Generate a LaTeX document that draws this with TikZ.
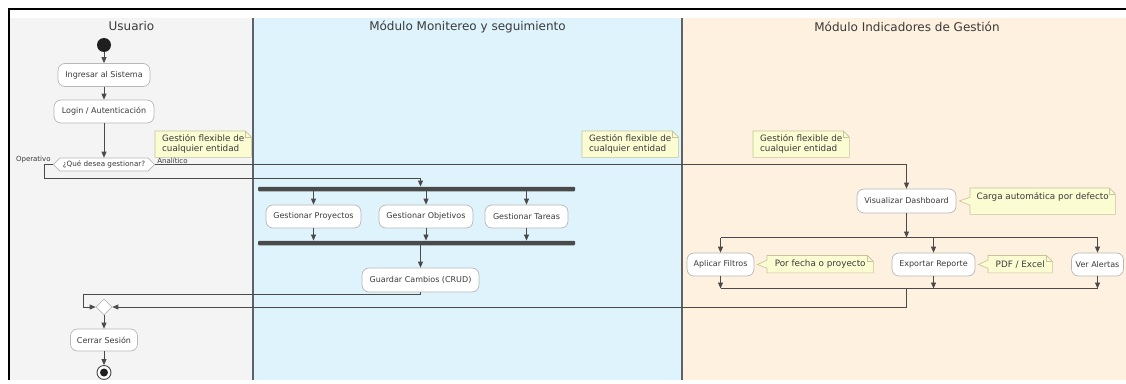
\documentclass[tikz,border=0pt]{standalone}
\usepackage{fontspec}
\setmainfont{DejaVu Sans}
\usetikzlibrary{shapes.geometric,shapes.symbols,arrows.meta,calc}
\pgfdeclarelayer{lanes}
\pgfdeclarelayer{notes}
\pgfsetlayers{lanes,notes,main}
\definecolor{laneA}{HTML}{F4F4F4}
\definecolor{laneB}{HTML}{DFF3FC}
\definecolor{laneC}{HTML}{FEF1DF}
\definecolor{ink}{HTML}{3A3A3A}
\definecolor{wirec}{HTML}{4A4A4A}
\definecolor{boxline}{HTML}{B8B8B8}
\definecolor{notefill}{HTML}{FCFCD2}
\definecolor{noteline}{HTML}{C4C49C}
\definecolor{sepc}{HTML}{5E6368}

% note body with folded corner
\newcommand\drawnotebody[1]{%
  \begin{pgfonlayer}{notes}
    \draw[notebody] (#1.south west) -- (#1.north west) -- ([xshift=-6pt]#1.north east)
      -- ([yshift=-6pt]#1.north east) -- (#1.south east) -- cycle;
    \draw[notebody,fill=none] ([xshift=-6pt]#1.north east) -- ([xshift=-6pt,yshift=-6pt]#1.north east)
      -- ([yshift=-6pt]#1.north east);
  \end{pgfonlayer}}
% note body with folded corner and a wedge pointing at node #2
\newcommand\drawnotewedge[2]{%
  \begin{pgfonlayer}{notes}
    \draw[notebody] (#1.north west) -- ([xshift=-6pt]#1.north east)
      -- ([yshift=-6pt]#1.north east) -- (#1.south east) -- (#1.south west)
      -- ([yshift=-4pt]#1.west) -- ([xshift=3pt]#2.east) -- ([yshift=4pt]#1.west) -- cycle;
    \draw[notebody,fill=none] ([xshift=-6pt]#1.north east) -- ([xshift=-6pt,yshift=-6pt]#1.north east)
      -- ([yshift=-6pt]#1.north east);
  \end{pgfonlayer}}

\begin{document}
\begin{tikzpicture}[x=1pt,y=-1pt,
  act/.style={draw=boxline, line width=0.7pt, fill=white, rounded corners=7pt,
    minimum height=23pt, inner xsep=5pt, inner ysep=0pt,
    font=\fontsize{8}{9}\selectfont, text=ink},
  arr/.style={draw=wirec, line width=0.8pt, -{Triangle[length=6pt,width=5pt]}},
  wire/.style={draw=wirec, line width=0.8pt},
  forkbar/.style={fill=wirec, draw=none, rounded corners=1pt, minimum height=4.5pt,
    minimum width=317pt, inner sep=0pt},
  notetext/.style={inner sep=0pt, font=\fontsize{8.8}{10}\selectfont, text=ink, align=left},
  notebody/.style={fill=notefill, draw=noteline, line width=0.6pt},
  lanetitle/.style={font=\fontsize{12}{14}\selectfont, text=ink},
  branchlbl/.style={font=\fontsize{7}{8}\selectfont, text=ink, inner sep=0.5pt},
]
\useasboundingbox (0,0) rectangle (1126,383);

% swimlanes and frame
\begin{pgfonlayer}{lanes}
  \fill[white] (0,0) rectangle (1126,383);
  \fill[laneA] (10,18) rectangle (253,380);
  \fill[laneB] (253,18) rectangle (682,380);
  \fill[laneC] (682,18) rectangle (1126,380);
  \draw[sepc, line width=1.3pt] (253,18) -- (253,380);
  \draw[sepc, line width=1.3pt] (682,18) -- (682,380);
  \draw[black, line width=2pt] (8,8.5) -- (1126,8.5);
  \draw[black, line width=2pt] (9,7.5) -- (9,380);
\end{pgfonlayer}

\node[lanetitle] (tU) at (131.5,26.5) {Usuario};
\node[lanetitle] (tM) at (467.5,26.5) {Módulo Monitereo y seguimiento};
\node[lanetitle] (tI) at (907,26.5) {Módulo Indicadores de Gestión};

% Usuario
\node[circle, fill=black!88, minimum size=14pt, inner sep=0pt] (st) at (104,45) {};
\node[act, minimum width=92pt] (ing) at (104,75) {Ingresar al Sistema};
\node[act, minimum width=100pt] (lg) at (104,111.5) {Login / Autenticación};
\node[signal, signal to=east and west, signal pointer angle=90, draw=boxline,
  line width=0.7pt, fill=white, minimum height=13pt, inner xsep=3pt, inner ysep=0pt,
  font=\fontsize{7.2}{8}\selectfont, text=ink] (dec) at (104,164.5) {¿Qué desea gestionar?};
\node[branchlbl, anchor=south east] (lop) at ([xshift=-1.5pt,yshift=0.5pt]dec.west) {Operativo};
\node[branchlbl, anchor=south west] (lan) at ([xshift=1.5pt,yshift=0.5pt]dec.east) {Analítico};
\node[diamond, draw=boxline, line width=0.7pt, fill=white, minimum width=16pt,
  minimum height=16pt, inner sep=0pt] (mg) at (104,307) {};
\node[act, minimum width=67pt, minimum height=22pt] (cs) at (104,340) {Cerrar Sesión};
\node[circle, draw=wirec, line width=0.9pt, fill=white, minimum size=14pt, inner sep=0pt] (en) at (104,372.5) {};
\node[circle, fill=black!88, minimum size=8pt, inner sep=0pt] (enc) at (en) {};

% notes
\node[notetext, anchor=north west, minimum width=96pt, minimum height=26pt] (n1) at (155,131)
  {Gestión flexible de\\cualquier entidad};
\node[notetext, anchor=north west, minimum width=96pt, minimum height=26pt] (n2) at (582,131)
  {Gestión flexible de\\cualquier entidad};
\node[notetext, anchor=north west, minimum width=96pt, minimum height=26pt] (n3) at (753,131)
  {Gestión flexible de\\cualquier entidad};
\drawnotebody{n1}
\drawnotebody{n2}
\drawnotebody{n3}

% Monitoreo y seguimiento
\node[forkbar] (f1) at (416.5,189) {};
\node[act, minimum width=95pt] (gp) at (313.5,216.5) {Gestionar Proyectos};
\node[act, minimum width=94pt] (go) at (426,216.5) {Gestionar Objetivos};
\node[act, minimum width=83pt] (gt) at (526.5,216.5) {Gestionar Tareas};
\node[forkbar] (f2) at (416.5,243) {};
\node[act, minimum width=117pt, minimum height=24pt] (gc) at (420.5,280) {Guardar Cambios (CRUD)};
\coordinate (gl) at (83,294);

% Indicadores de Gestión
\node[act, minimum width=99pt, minimum height=24pt] (vd) at (906.5,201) {Visualizar Dashboard};
\node[act, minimum width=67pt] (af) at (720.5,264.5) {Aplicar Filtros};
\node[act, minimum width=83pt] (er) at (933.5,264.5) {Exportar Reporte};
\node[act, minimum width=52pt, inner xsep=3pt] (va) at (1097.5,264.5) {Ver Alertas};
\coordinate (s1) at (906.5,237.5);
\coordinate (m1) at (906.5,288.5);

\node[notetext, anchor=north west, minimum width=145pt, minimum height=26pt, text depth=11pt] (nc) at (970,188)
  {Carga automática por defecto};
\node[notetext, anchor=north west, minimum width=106pt, minimum height=17pt] (nf) at (767,255.5)
  {Por fecha o proyecto};
\node[notetext, anchor=north west, minimum width=64pt, minimum height=17pt] (np) at (988,255.5)
  {PDF / Excel};
\drawnotewedge{nc}{vd}
\drawnotewedge{nf}{af}
\drawnotewedge{np}{er}

% flow
\draw[arr] (st.south) -- (ing.north);
\draw[arr] (ing.south) -- (lg.north);
\draw[arr] (lg.south) -- (dec.north);
\draw[arr] (dec.west) -- ++(-8,0) -- ++(0,13.5) -| (f1.north -| gc.north);
\draw[arr] (dec.east) -| (vd.north);

\draw[arr] (gp.north |- f1.south) -- (gp.north);
\draw[arr] (go.north |- f1.south) -- (go.north);
\draw[arr] (gt.north |- f1.south) -- (gt.north);
\draw[arr] (gp.south) -- (gp.south |- f2.north);
\draw[arr] (go.south) -- (go.south |- f2.north);
\draw[arr] (gt.south) -- (gt.south |- f2.north);
\draw[arr] (f2.south -| gc.north) -- (gc.north);
\draw[arr] (gc.south) |- (gl) |- (mg.west);

\draw[arr] (vd.south) -- (s1);
\draw[wire] (af.north |- s1) -- (va.north |- s1);
\draw[arr] (af.north |- s1) -- (af.north);
\draw[arr] (er.north |- s1) -- (er.north);
\draw[arr] (va.north |- s1) -- (va.north);
\draw[arr] (af.south) -- (af.south |- m1);
\draw[arr] (er.south) -- (er.south |- m1);
\draw[arr] (va.south) -- (va.south |- m1);
\draw[wire] (af.south |- m1) -- (va.south |- m1);
\draw[arr] (m1) |- (mg.east);

\draw[arr] (mg.south) -- (cs.north);
\draw[arr] (cs.south) -- (en.north);
\end{tikzpicture}
\end{document}
